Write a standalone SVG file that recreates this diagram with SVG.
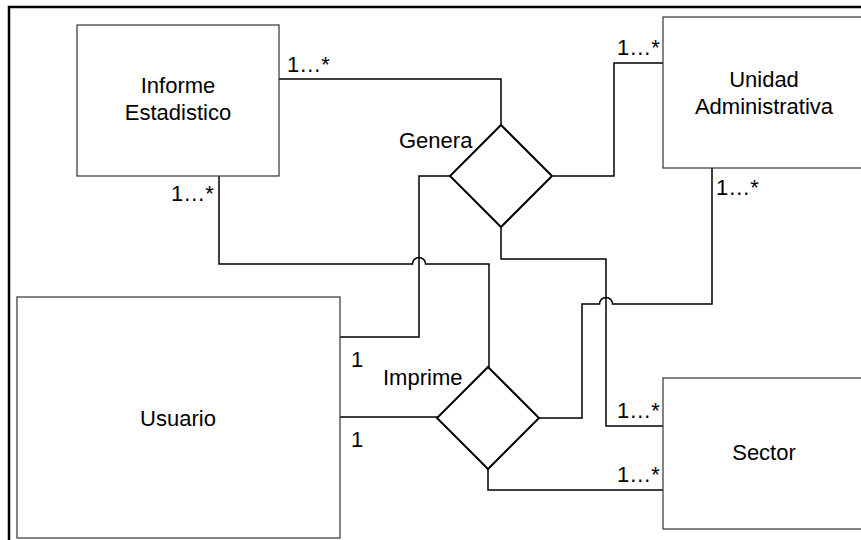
<svg xmlns="http://www.w3.org/2000/svg" width="861" height="540" viewBox="0 0 861 540">
<style>
text{font-family:"Liberation Sans",Arial,sans-serif;font-size:22px;fill:#000}
.mid{text-anchor:middle}
.box{fill:#fff;stroke:#333;stroke-width:1.2}
.dia{fill:#fff;stroke:#000;stroke-width:2}
.con{fill:none;stroke:#000;stroke-width:1.5}
</style>
<rect width="861" height="540" fill="#fff"/>
<path d="M9,542 V7 H863" fill="none" stroke="#000" stroke-width="2.5"/>
<g id="connectors">
<path class="con" d="M279,79 H501 V125"/>
<path class="con" d="M553,176 H614 V63 H663"/>
<path class="con" d="M450,176 H419 V337 H340"/>
<path class="con" d="M219,176 V264 H412.5 A6.5,6.5 0 0 1 425.5,264 H489 V367"/>
<path class="con" d="M501,228 V259 H606 V426 H663"/>
<path class="con" d="M539,418 H582 V304 H599.5 A6.5,6.5 0 0 1 612.5,304 H712 V168"/>
<path class="con" d="M340,417 H437"/>
<path class="con" d="M488,469 V490 H663"/>
</g>
<g id="informe">
<rect class="box" x="77" y="25" width="202" height="151"/>
<text class="mid" x="178" y="93">Informe</text>
<text class="mid" x="178" y="120">Estadistico</text>
</g>
<g id="unidad">
<rect class="box" x="663" y="17" width="215" height="151"/>
<text class="mid" x="764" y="87">Unidad</text>
<text class="mid" x="764" y="114">Administrativa</text>
</g>
<g id="usuario">
<rect class="box" x="17" y="297" width="323" height="241"/>
<text class="mid" x="178" y="426">Usuario</text>
</g>
<g id="sector">
<rect class="box" x="663" y="378" width="215" height="151"/>
<text class="mid" x="764" y="460">Sector</text>
</g>
<g id="genera">
<polygon class="dia" points="501,125 552,176 501,227 450,176"/>
<text x="399" y="148">Genera</text>
</g>
<g id="imprime">
<polygon class="dia" points="488,367 539,418 488,469 437,418"/>
<text x="383" y="385">Imprime</text>
</g>
<g id="labels">
<text x="287" y="72">1…*</text>
<text x="617" y="55">1…*</text>
<text x="171" y="201">1…*</text>
<text x="716" y="195">1…*</text>
<text x="351" y="367">1</text>
<text x="351" y="447">1</text>
<text x="617" y="418">1…*</text>
<text x="617" y="482">1…*</text>
</g>
</svg>
